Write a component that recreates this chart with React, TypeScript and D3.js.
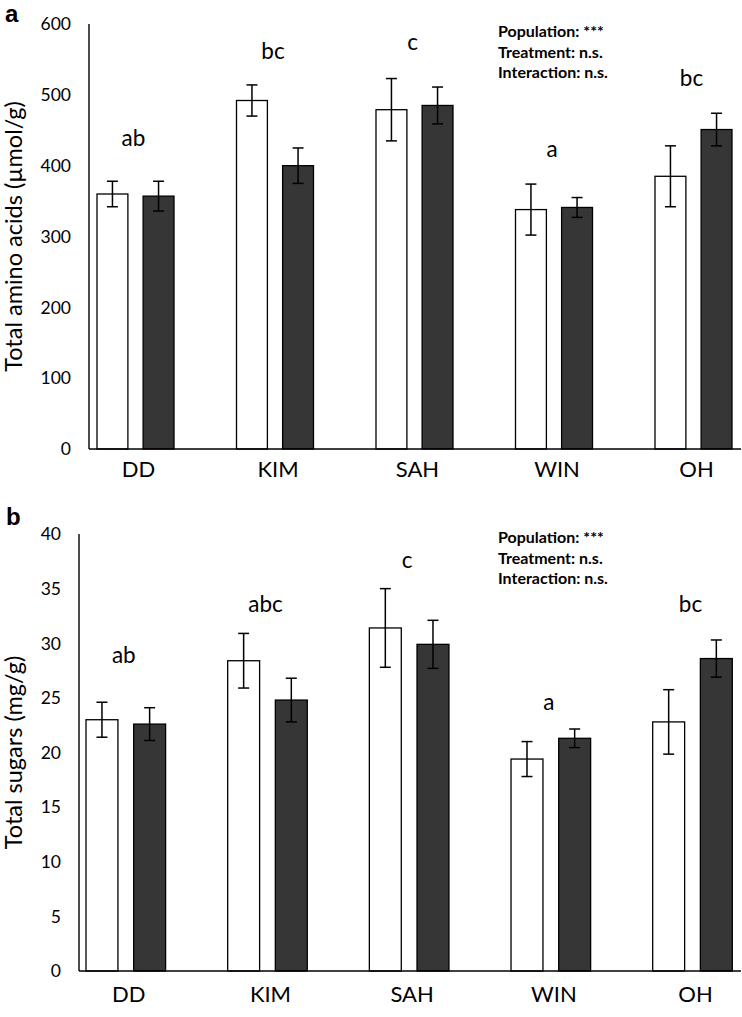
import React from 'react';
import * as d3 from 'd3';

// ---------- data ----------
const populations = ['DD', 'KIM', 'SAH', 'WIN', 'OH'];
const seriesKeys = ['open', 'filled'];

const aminoOpen = [360, 492, 479, 338, 385];
const aminoOpenErr = [18, 22, 44, 36, 43];
const aminoFilled = [357, 400, 485, 341, 451];
const aminoFilledErr = [21, 25, 26, 14, 23];
const aminoLetters = ['ab', 'bc', 'c', 'a', 'bc'];
const aminoLetterLevel = [428, 551, 563, 412, 512];
const aminoTicks = [0, 100, 200, 300, 400, 500, 600];

const sugarOpen = [23.0, 28.4, 31.4, 19.4, 22.8];
const sugarOpenErr = [1.6, 2.5, 3.6, 1.6, 2.95];
const sugarFilled = [22.6, 24.8, 29.9, 21.3, 28.6];
const sugarFilledErr = [1.5, 2.0, 2.2, 0.85, 1.7];
const sugarLetters = ['ab', 'abc', 'c', 'a', 'bc'];
const sugarLetterLevel = [28.2, 32.9, 36.9, 23.9, 32.9];
const sugarTicks = [0, 5, 10, 15, 20, 25, 30, 35, 40];

const statsLines = ['Population: ***', 'Treatment: n.s.', 'Interaction: n.s.'];

const FONT = 'Lato, "Open Sans", sans-serif';
const DARK = '#363636';

type PanelProps = {
  label: string;
  title: string;
  open: number[];
  openErr: number[];
  filled: number[];
  filledErr: number[];
  letters: string[];
  letterLevel: number[];
  ticks: number[];
  layout: {
    axisX: number; right: number; top: number; bottom: number;
    first: number; last: number; half: number;
    labelX: number; labelY: number; catDy: number; statsY: number;
  };
};

function Panel(p: PanelProps) {
  const L = p.layout;
  const maxV = p.ticks[p.ticks.length - 1];
  const y = d3.scaleLinear().domain([0, maxV]).range([L.bottom, L.top]);
  const x0 = d3.scalePoint<string>().domain(populations).range([L.first, L.last]);
  const x1 = d3.scaleBand<string>().domain(seriesKeys).range([-L.half, L.half]).paddingInner(0.33).paddingOuter(0);
  const bw = x1.bandwidth();
  const capHalf = 5.5;

  const rows = populations.map((c, i) => ({
    c,
    bars: [
      { k: 'open', v: p.open[i], e: p.openErr[i] },
      { k: 'filled', v: p.filled[i], e: p.filledErr[i] },
    ],
    letter: p.letters[i],
    level: p.letterLevel[i],
  }));

  return (
    <g>
      <text x={L.labelX} y={L.labelY} fontFamily='"Liberation Sans", Arial, sans-serif' fontWeight="bold" fontSize={24}>{p.label}</text>
      <text
        transform={`translate(22,${(L.top + L.bottom) / 2}) rotate(-90)`}
        textAnchor="middle"
        fontFamily={FONT}
        fontSize={23.5}
      >{p.title}</text>
      {p.ticks.map((t) => (
        <text key={t} x={L.axisX - 18} y={y(t)} dy="0.36em" textAnchor="end" fontFamily={FONT} fontSize={17.5}>{t}</text>
      ))}
      {rows.map((r) => {
        const cx = x0(r.c)!;
        return (
          <g key={r.c}>
            {r.bars.map((b) => {
              const bx = cx + x1(b.k)!;
              const mid = bx + bw / 2;
              return (
                <g key={b.k}>
                  <rect x={bx} y={y(b.v)} width={bw} height={y(0) - y(b.v)}
                    fill={b.k === 'open' ? '#ffffff' : DARK} stroke="#000" strokeWidth={1.3} />
                  <line x1={mid} x2={mid} y1={y(b.v + b.e)} y2={y(b.v - b.e)} stroke="#000" strokeWidth={1.5} />
                  <line x1={mid - capHalf} x2={mid + capHalf} y1={y(b.v + b.e)} y2={y(b.v + b.e)} stroke="#000" strokeWidth={1.5} />
                  <line x1={mid - capHalf} x2={mid + capHalf} y1={y(b.v - b.e)} y2={y(b.v - b.e)} stroke="#000" strokeWidth={1.5} />
                </g>
              );
            })}
            <text x={cx - 2} y={y(r.level)} textAnchor="middle" fontFamily={FONT} fontSize={22.5}>{r.letter}</text>
            <text x={cx + 3} y={L.bottom + L.catDy} textAnchor="middle" fontFamily={FONT} fontSize={22}>{r.c}</text>
          </g>
        );
      })}
      <line x1={L.axisX} x2={L.axisX} y1={L.top} y2={L.bottom} stroke="#000" strokeWidth={1.4} />
      <line x1={L.axisX} x2={L.right} y1={L.bottom} y2={L.bottom} stroke="#000" strokeWidth={1.5} />
      {statsLines.map((s, i) => (
        <text key={s} x={498} y={L.statsY + i * 20.7} fontFamily={FONT} fontWeight="bold" fontSize={16}>{s}</text>
      ))}
    </g>
  );
}

export default function App() {
  return (
    <svg width={742} height={1017} style={{ position: 'absolute', left: 0, top: 0, background: '#fff' }}>
      <Panel
        label="a"
        title="Total amino acids (µmol/g)"
        open={aminoOpen}
        openErr={aminoOpenErr}
        filled={aminoFilled}
        filledErr={aminoFilledErr}
        letters={aminoLetters}
        letterLevel={aminoLetterLevel}
        ticks={aminoTicks}
        layout={{ axisX: 89, right: 741, top: 24, bottom: 449, first: 135.5, last: 693.5, half: 38.5, labelX: 5, labelY: 22, catDy: 28, statsY: 37 }}
      />
      <Panel
        label="b"
        title="Total sugars (mg/g)"
        open={sugarOpen}
        openErr={sugarOpenErr}
        filled={sugarFilled}
        filledErr={sugarFilledErr}
        letters={sugarLetters}
        letterLevel={sugarLetterLevel}
        ticks={sugarTicks}
        layout={{ axisX: 79, right: 741, top: 534, bottom: 971, first: 125.8, last: 692.5, half: 39.8, labelX: 6, labelY: 525, catDy: 31, statsY: 543 }}
      />
    </svg>
  );
}
